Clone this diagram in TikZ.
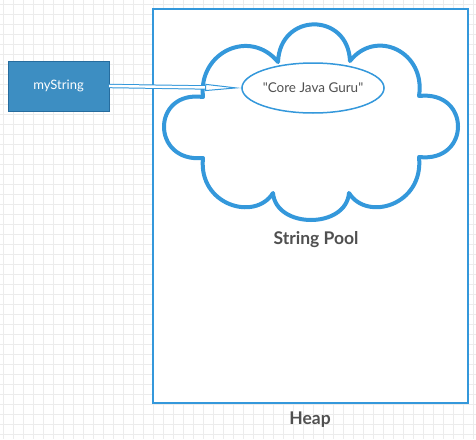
\documentclass[tikz,border=0pt]{standalone}
\usepackage{fontspec}
\setmainfont{Lato}
\usepackage{xcolor}
\usepackage{tikz}
\usetikzlibrary{positioning,calc,arrows.meta,shapes.geometric}
\definecolor{PoolBlue}{RGB}{52,152,219}
\definecolor{VarBlue}{RGB}{61,142,194}
\definecolor{VarEdge}{RGB}{38,108,158}
\definecolor{TextGray}{RGB}{80,80,80}
\definecolor{GridGray}{RGB}{236,236,236}
\tikzset{
    gridline/.style={draw=GridGray, line width=0.8pt},
    heapbox/.style={draw=PoolBlue, line width=2pt},
    poolcloud/.style={draw=PoolBlue, fill=white, line width=4pt, line join=round}
}

\begin{document}
\begin{tikzpicture}[x=1pt, y=-1pt,
                % Style nodes: variable box and string literal
                varnode/.style={
                    rectangle,
                    draw=VarEdge,
                    fill=VarBlue,
                    text=white,
                    font=\fontsize{13}{15}\selectfont,
                    minimum width=101pt,
                    minimum height=50pt,
                    inner sep=0pt
                },
                strnode/.style={
                    ellipse,
                    draw=PoolBlue,
                    fill=white,
                    line width=1.5pt,
                    text=TextGray,
                    font=\fontsize{13.5}{15}\selectfont\addfontfeatures{Ligatures=TeXOff},
                    minimum width=132pt,
                    minimum height=50pt,
                    inner sep=0pt
                },
                labeltext/.style={text=TextGray, font=\bfseries\fontsize{17.5}{20}\selectfont},
                reflink/.style={draw=PoolBlue, line width=1pt, double=white, double distance=2.4pt,
                    -{Triangle[open, length=36pt, width=7pt]}}
            ]
                \useasboundingbox (0,0) rectangle (476,439);
                % background grid
                \foreach \gx in {0,...,47}
                    \draw[gridline] (3.5+10*\gx,0) -- (3.5+10*\gx,439);
                \foreach \gy in {0,...,43}
                    \draw[gridline] (0,4+10*\gy) -- (476,4+10*\gy);

                % Heap
                \draw[heapbox, fill=white] (153,9) rectangle (468,403);
                \node[labeltext] (heap) at (310,420) {Heap};

                % String pool cloud
                \draw[poolcloud] (203,97)
                    .. controls (198,52) and (250,28) .. (278,62)
                    .. controls (280,12) and (348,12) .. (350,61)
                    .. controls (376,28) and (426,52) .. (419,96)
                    .. controls (471,90) and (471,163) .. (419,157)
                    .. controls (424,205) and (367,222) .. (349,193)
                    .. controls (346,229) and (276,229) .. (273,193)
                    .. controls (255,222) and (198,205) .. (203,158)
                    .. controls (151,163) and (151,90) .. (203,97) -- cycle;
                \node[labeltext] (pool) at (316,240) {String Pool};

                % Reference and literal
                \node[varnode] (myString) at (58.5,86) {myString};
                \node[strnode] (literal) at (313,88) {"Core Java Guru"};
                \draw[reflink] (myString.east) -- (literal.west);
            \end{tikzpicture}
\end{document}
